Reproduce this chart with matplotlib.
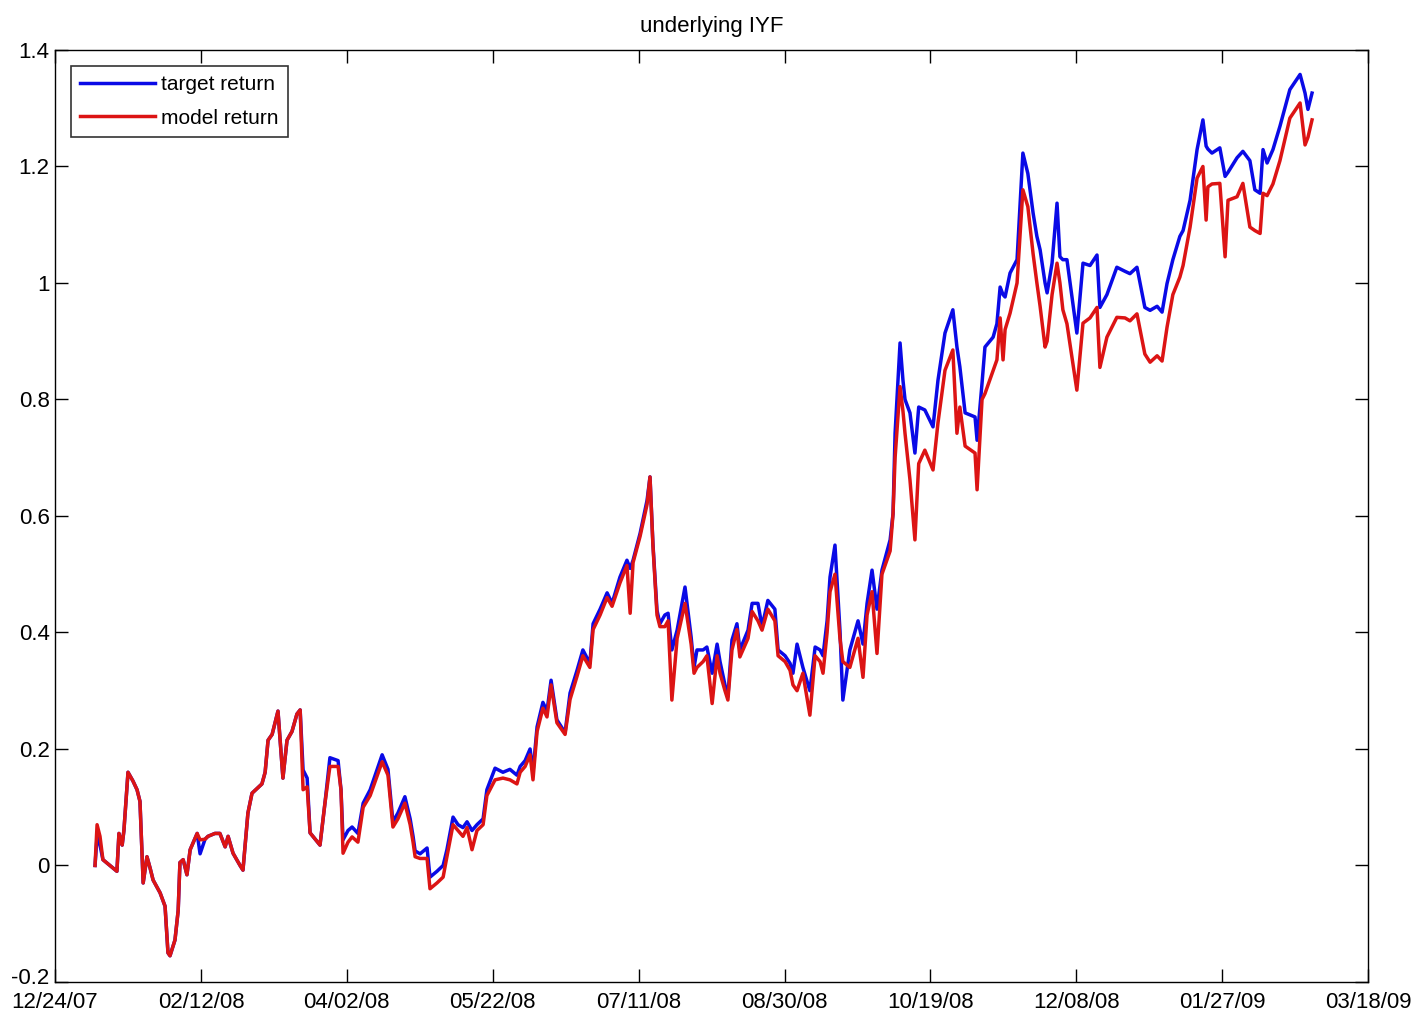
import pandas as pd
import matplotlib
matplotlib.use('Agg')
import matplotlib.pyplot as plt
from matplotlib.transforms import ScaledTranslation

# days since 12/24/07 and cumulative returns
days = [13.7, 14.4, 15.4, 16.4, 18.8, 21.2, 21.9, 23.0, 23.6, 24.3, 25.0, 26.7, 28.1, 29.1,
        30.2, 31.5, 32.6, 33.6, 36.0, 37.7, 38.7, 39.4, 41.1, 42.2, 42.8, 43.9, 45.2, 46.3,
        48.7, 49.7, 51.4, 52.4, 54.8, 56.5, 58.3, 59.3, 61.0, 63.4, 64.4, 66.1, 67.5, 70.9,
        72.0, 73.0, 74.4, 76.4, 78.1, 79.5, 81.2, 82.9, 84.0, 85.0, 86.4, 87.4, 90.8, 92.5,
        94.2, 97.0, 98.0, 98.7, 100.4, 101.8, 103.8, 105.6, 108.0, 112.1, 114.1, 115.8, 117.5,
        119.9, 121.7, 122.7, 123.4, 125.1, 127.5, 128.5, 130.9, 133.0, 134.3, 136.4, 138.1,
        139.8, 141.2, 142.9, 144.6, 146.7, 148.0, 150.8, 153.5, 155.9, 158.3, 159.4, 161.1,
        162.8, 163.8, 165.2, 167.2, 168.6, 170.0, 172.0, 174.8, 176.5, 178.9, 180.9, 183.3,
        184.4, 186.8, 189.2, 190.9, 193.6, 196.0, 197.1, 198.1, 200.5, 202.9, 203.9, 204.9,
        206.3, 207.3, 209.0, 210.1, 211.4, 213.2, 215.9, 218.0, 219.0, 220.0, 222.1, 223.4,
        225.2, 226.9, 227.9, 229.6, 230.6, 232.0, 233.7, 234.7, 237.5, 238.9, 240.9, 242.3,
        244.3, 246.7, 247.8, 250.2, 251.9, 252.9, 254.3, 256.3, 258.7, 260.5, 262.2, 263.2,
        264.6, 265.6, 267.3, 269.0, 270.0, 272.4, 275.2, 276.9, 278.3, 280.0, 281.7, 283.4,
        286.2, 287.2, 287.9, 289.6, 290.6, 291.3, 293.0, 294.7, 296.0, 298.1, 300.9, 302.6,
        305.0, 307.7, 309.1, 310.1, 311.9, 315.3, 316.0, 317.7, 318.7, 321.5, 322.8, 323.9,
        324.9, 325.6, 327.3, 329.7, 331.7, 333.4, 335.2, 336.5, 337.6, 339.3, 340.0, 341.7,
        343.4, 344.4, 345.4, 346.8, 350.2, 352.3, 354.7, 357.1, 358.1, 360.5, 363.9, 366.7,
        368.4, 370.8, 373.5, 375.3, 377.7, 379.4, 381.1, 383.1, 385.5, 386.6, 389.0, 391.4,
        393.4, 394.5, 395.1, 396.5, 399.2, 401.0, 402.0, 405.1, 407.1, 409.5, 411.2, 413.0,
        414.0, 415.4, 417.4, 419.8, 423.2, 426.7, 428.4, 429.4, 430.8]

target_ret = [0.00, 0.05, 0.035, 0.01, 0.0, -0.01, 0.055, 0.035, 0.06, 0.11, 0.16, 0.145, 0.13, 0.11,
              -0.03, 0.015, -0.005, -0.025, -0.047, -0.07, -0.15, -0.155, -0.128, -0.077, 0.005, 0.01, -0.016, 0.027,
              0.055, 0.02, 0.045, 0.05, 0.055, 0.055, 0.032, 0.05, 0.021, 0.0, -0.008, 0.09, 0.124, 0.14,
              0.16, 0.215, 0.225, 0.265, 0.15, 0.215, 0.23, 0.26, 0.267, 0.164, 0.15, 0.056, 0.035, 0.107,
              0.185, 0.18, 0.13, 0.044, 0.06, 0.066, 0.055, 0.107, 0.13, 0.19, 0.165, 0.075, 0.09,
              0.118, 0.08, 0.05, 0.025, 0.02, 0.03, -0.02, -0.01, 0.0, 0.027, 0.083, 0.07,
              0.065, 0.075, 0.06, 0.07, 0.08, 0.13, 0.167, 0.16, 0.165, 0.155, 0.17, 0.18,
              0.2, 0.16, 0.238, 0.28, 0.265, 0.318, 0.25, 0.228, 0.296, 0.335, 0.37, 0.347,
              0.415, 0.44, 0.468, 0.45, 0.495, 0.524, 0.51, 0.524, 0.57, 0.627, 0.667, 0.553,
              0.438, 0.415, 0.43, 0.433, 0.37, 0.404, 0.478, 0.392, 0.34, 0.37, 0.37, 0.375,
              0.33, 0.38, 0.35, 0.31, 0.29, 0.387, 0.415, 0.37, 0.404, 0.45, 0.45, 0.41,
              0.455, 0.44, 0.37, 0.36, 0.347, 0.33, 0.38, 0.34, 0.3, 0.375, 0.37, 0.36,
              0.42, 0.495, 0.55, 0.404, 0.284, 0.37, 0.42, 0.38, 0.45, 0.507, 0.44, 0.507,
              0.559, 0.604, 0.742, 0.897, 0.833, 0.80, 0.777, 0.708, 0.787, 0.782, 0.753, 0.833,
              0.914, 0.954, 0.89, 0.856, 0.777, 0.77, 0.73, 0.828, 0.89, 0.907, 0.93, 0.993,
              0.98, 0.976, 1.017, 1.04, 1.223, 1.188, 1.12, 1.08, 1.057, 1.0, 0.983, 1.034,
              1.137, 1.045, 1.04, 1.04, 0.914, 1.034, 1.03, 1.048, 0.958, 0.98, 1.027, 1.02,
              1.016, 1.027, 0.958, 0.953, 0.96, 0.95, 0.999, 1.04, 1.08, 1.09, 1.142, 1.229,
              1.28, 1.235, 1.23, 1.223, 1.232, 1.183, 1.19, 1.215, 1.226, 1.21, 1.16, 1.154,
              1.229, 1.206, 1.229, 1.269, 1.332, 1.358, 1.326, 1.298, 1.326]

model_ret = [0.00, 0.07, 0.05, 0.01, 0.0, -0.01, 0.055, 0.035, 0.06, 0.11, 0.16, 0.145, 0.13, 0.11,
             -0.03, 0.015, -0.005, -0.025, -0.047, -0.07, -0.15, -0.155, -0.128, -0.077, 0.005, 0.01, -0.016, 0.027,
             0.055, 0.044, 0.045, 0.05, 0.055, 0.055, 0.032, 0.05, 0.021, 0.0, -0.008, 0.09, 0.124, 0.14,
             0.16, 0.215, 0.225, 0.265, 0.15, 0.215, 0.23, 0.26, 0.267, 0.13, 0.135, 0.056, 0.035, 0.107,
             0.17, 0.17, 0.13, 0.021, 0.04, 0.049, 0.04, 0.1, 0.12, 0.178, 0.155, 0.066, 0.08,
             0.107, 0.07, 0.04, 0.015, 0.012, 0.012, -0.04, -0.03, -0.02, 0.015, 0.07, 0.06,
             0.05, 0.065, 0.027, 0.06, 0.07, 0.12, 0.147, 0.15, 0.147, 0.14, 0.16, 0.17,
             0.19, 0.147, 0.23, 0.27, 0.255, 0.31, 0.245, 0.225, 0.285, 0.325, 0.36, 0.34,
             0.405, 0.43, 0.46, 0.445, 0.485, 0.515, 0.433, 0.52, 0.565, 0.62, 0.667, 0.55,
             0.43, 0.41, 0.41, 0.42, 0.284, 0.39, 0.45, 0.38, 0.33, 0.34, 0.35, 0.36,
             0.278, 0.36, 0.33, 0.3, 0.284, 0.37, 0.405, 0.358, 0.39, 0.436, 0.42, 0.404,
             0.44, 0.42, 0.36, 0.35, 0.335, 0.31, 0.3, 0.33, 0.258, 0.36, 0.35, 0.33,
             0.4, 0.47, 0.5, 0.39, 0.35, 0.34, 0.39, 0.323, 0.43, 0.47, 0.364, 0.5,
             0.54, 0.604, 0.70, 0.822, 0.78, 0.742, 0.662, 0.559, 0.69, 0.713, 0.679, 0.76,
             0.85, 0.885, 0.742, 0.787, 0.72, 0.708, 0.645, 0.8, 0.81, 0.85, 0.868, 0.94,
             0.868, 0.92, 0.948, 1.0, 1.16, 1.131, 1.05, 1.0, 0.96, 0.89, 0.9, 0.98,
             1.034, 1.0, 0.954, 0.93, 0.816, 0.931, 0.94, 0.958, 0.855, 0.907, 0.941, 0.94,
             0.935, 0.947, 0.878, 0.864, 0.875, 0.866, 0.924, 0.98, 1.01, 1.03, 1.096, 1.18,
             1.2, 1.108, 1.165, 1.17, 1.171, 1.045, 1.142, 1.148, 1.171, 1.096, 1.09, 1.085,
             1.154, 1.15, 1.17, 1.21, 1.283, 1.309, 1.237, 1.25, 1.28]

tick_labels = ['12/24/07', '02/12/08', '04/02/08', '05/22/08', '07/11/08',
               '08/30/08', '10/19/08', '12/08/08', '01/27/09', '03/18/09']

plt.rcParams['font.family'] = ['Liberation Sans', 'DejaVu Sans']

start = pd.Timestamp('2007-12-24')
dates = start + pd.to_timedelta(days, unit='D')
tick_dates = pd.to_datetime(tick_labels, format='%m/%d/%y')

fig = plt.figure(figsize=(14.19, 10.18), dpi=100)
ax = fig.add_axes([0.0388, 0.0354, 0.9253, 0.9155])

ax.plot(dates, target_ret, color='#0a0ae6', linewidth=2.5, label='target return')
ax.plot(dates, model_ret, color='#dc1414', linewidth=2.5, label='model return')

ax.set_xlim(tick_dates[0], tick_dates[-1])
ax.set_ylim(-0.2, 1.4)
ax.set_xticks(tick_dates)
ax.set_xticklabels(tick_labels)
ax.set_yticks([-0.2, 0, 0.2, 0.4, 0.6, 0.8, 1.0, 1.2, 1.4])
ax.set_yticklabels(['-0.2', '0', '0.2', '0.4', '0.6', '0.8', '1', '1.2', '1.4'])
ax.tick_params(direction='in', length=9.5, width=1, top=True, right=True, labelsize=16)
ax.tick_params(axis='x', pad=7)
ax.tick_params(axis='y', pad=4)
for s in ax.spines.values():
    s.set_linewidth(1)

# lift the bottom y label a little so it clears the first date
lowest = ax.get_yticklabels()[0]
lowest.set_transform(lowest.get_transform() + ScaledTranslation(0, 4 / 72, fig.dpi_scale_trans))

ax.set_title('underlying IYF', fontsize=16, pad=13)
leg = ax.legend(loc='upper left', fontsize=15, handlelength=3.6, handletextpad=0.3,
                fancybox=False, edgecolor='black', borderaxespad=0.75, borderpad=0.45,
                labelspacing=0.7)
leg.get_frame().set_linewidth(1.2)

fig.savefig('out.png', dpi=100)
